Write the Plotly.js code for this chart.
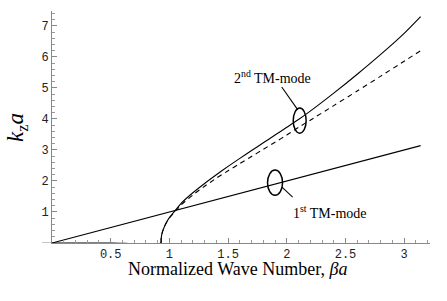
<!DOCTYPE html>
<html>
<head>
<meta charset="utf-8">
<script src="https://cdn.plot.ly/plotly-3.0.1.min.js"></script>
<style>html,body{margin:0;padding:0;background:#fff;}#chart{width:447px;height:301px;}</style>
</head>
<body>
<div id="chart"></div>
<script>
// 1st TM-mode
const mode1X = [0, 0.5, 1.0, 1.5, 2.0, 2.5, 3.14];
const mode1Y = [0, 0.5, 1.0, 1.5, 2.0, 2.5, 3.14];
// 2nd TM-mode (solid)
const mode2X = [0, 0.5, 0.928, 0.93, 0.94, 0.96, 0.98, 1.0, 1.05, 1.1, 1.2, 1.3, 1.4, 1.5, 1.6, 1.7, 1.8, 1.9, 2.0, 2.1, 2.2, 2.4, 2.6, 2.8, 3.0, 3.14];
const mode2Y = [0, 0, 0, 0.15, 0.35, 0.55, 0.7, 0.82, 1.05, 1.28, 1.62, 1.92, 2.2, 2.47, 2.73, 2.98, 3.23, 3.48, 3.73, 3.98, 4.25, 4.83, 5.44, 6.08, 6.76, 7.3];
// 2nd TM-mode (dashed)
const mode2dX = [0.928, 0.93, 0.94, 0.96, 0.98, 1.0, 1.05, 1.1, 1.2, 1.3, 1.4, 1.5, 1.6, 1.7, 1.8, 1.9, 2.0, 2.1, 2.2, 2.4, 2.6, 2.8, 3.0, 3.14];
const mode2dY = [0, 0.15, 0.35, 0.55, 0.69, 0.8, 1.02, 1.23, 1.55, 1.83, 2.09, 2.33, 2.56, 2.79, 3.02, 3.25, 3.48, 3.73, 3.96, 4.43, 4.9, 5.38, 5.86, 6.2];
const xTicks = [0.5, 1, 1.5, 2, 2.5, 3];
const yTicks = [1, 2, 3, 4, 5, 6, 7];
const xTitle = 'Normalized Wave Number, <i>βa</i>';
const yTitle = '<i>k</i><sub>z</sub><i>a</i>';

const traces = [
  {x: mode1X, y: mode1Y, mode: 'lines', line: {color: '#000', width: 1.1}, hoverinfo: 'skip'},
  {x: mode2X, y: mode2Y, mode: 'lines', line: {color: '#000', width: 1.1, shape: 'spline', smoothing: 0.6}, hoverinfo: 'skip'},
  {x: mode2dX, y: mode2dY, mode: 'lines', line: {color: '#000', width: 1.1, dash: '5px,4px', shape: 'spline', smoothing: 0.6}, hoverinfo: 'skip'}
];

const SERIF = 'Liberation Serif';
const MONO = 'Liberation Mono';
const tickFont = {family: MONO, size: 12, color: '#222'};
const layout = {
  width: 447, height: 301,
  margin: {l: 52, r: 17, t: 11, b: 58},
  showlegend: false,
  paper_bgcolor: '#fff', plot_bgcolor: '#fff',
  font: {family: SERIF},
  xaxis: {
    range: [0, 3.22], showgrid: false, zeroline: false,
    showline: true, linecolor: '#888', linewidth: 1,
    tickvals: xTicks, ticktext: xTicks.map(String),
    ticks: 'inside', ticklen: 5, tickcolor: '#888', tickfont: tickFont,
    minor: {dtick: 0.1, tick0: 0, ticks: 'inside', ticklen: 3, tickcolor: '#999'}
  },
  yaxis: {
    range: [0, 7.48], showgrid: false, zeroline: false,
    showline: true, linecolor: '#888', linewidth: 1,
    tickvals: yTicks, ticktext: yTicks.map(String),
    ticks: 'inside', ticklen: 5, tickcolor: '#888', tickfont: tickFont,
    minor: {dtick: 0.2, tick0: 0, ticks: 'inside', ticklen: 3, tickcolor: '#999'}
  },
  shapes: [
    {type: 'circle', xref: 'x', yref: 'y', x0: 2.055, x1: 2.165, y0: 3.54, y1: 4.35, line: {color: '#000', width: 1.5}},
    {type: 'circle', xref: 'x', yref: 'y', x0: 1.836, x1: 1.964, y0: 1.54, y1: 2.35, line: {color: '#000', width: 1.5}},
    {type: 'line', xref: 'x', yref: 'y', x0: 1.957, y0: 5.03, x1: 2.094, y1: 4.29, line: {color: '#000', width: 1.1}},
    {type: 'line', xref: 'x', yref: 'y', x0: 1.957, y0: 1.81, x1: 2.05, y1: 1.48, line: {color: '#000', width: 1.1}},
    {type: 'line', xref: 'paper', yref: 'y', x0: -0.026, x1: 0, y0: 0, y1: 0, line: {color: '#888', width: 1}}
  ],
  annotations: [
    {xref: 'x', yref: 'y', x: 1.881, y: 5.35, text: '2<sup>nd</sup> TM-mode', showarrow: false, font: {family: SERIF, size: 14, color: '#000'}},
    {xref: 'x', yref: 'y', x: 2.366, y: 1.0, text: '1<sup>st</sup> TM-mode', showarrow: false, font: {family: SERIF, size: 14, color: '#000'}},
    {xref: 'paper', yref: 'paper', x: 0.49, y: -0.112, xanchor: 'center', yanchor: 'middle', text: xTitle, showarrow: false, font: {family: SERIF, size: 18, color: '#000'}},
    {xref: 'paper', yref: 'paper', x: -0.0926, y: 0.50, xanchor: 'center', yanchor: 'middle', textangle: -90, text: yTitle, showarrow: false, font: {family: SERIF, size: 23, color: '#000'}}
  ]
};
Plotly.newPlot('chart', traces, layout, {staticPlot: true, displayModeBar: false});
</script>
</body>
</html>
